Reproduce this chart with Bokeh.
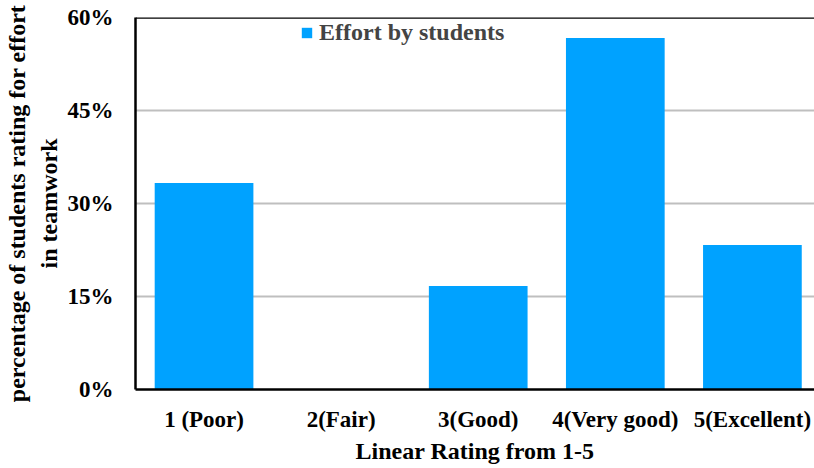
from bokeh.plotting import figure
from bokeh.models import Range1d, FixedTicker, PrintfTickFormatter, Span
from bokeh.embed import file_html
from bokeh.resources import INLINE

categories = ["1 (Poor)", "2(Fair)", "3(Good)", "4(Very good)", "5(Excellent)"]
values = [33.3, 0.0, 16.7, 56.7, 23.3]
y_ticks = [0, 15, 30, 45, 60]
series_name = "Effort by students"
y_title_lines = ["percentage of students rating for effort", "in teamwork"]
x_title = "Linear Rating from 1-5"

FONT = "Liberation Serif"
BAR = "#00A2FF"
FS_TICK = "23px"
FS_LABEL = "24px"

positions = list(range(1, len(categories) + 1))

p = figure(width=814, height=468, output_backend="svg", toolbar_location=None,
           x_range=Range1d(0.5, 5.453), y_range=Range1d(0, 60),
           min_border_left=135, min_border_right=0, min_border_top=17, min_border_bottom=79)
p.outline_line_color = None
p.background_fill_color = "white"
p.border_fill_color = "white"

p.vbar(x=positions, top=values, width=0.72, fill_color=BAR, line_color=None,
       legend_label=series_name)

# axes
p.xaxis.ticker = FixedTicker(ticks=positions)
p.xaxis.major_label_overrides = {i: c for i, c in zip(positions, categories)}
p.yaxis.ticker = FixedTicker(ticks=y_ticks)
p.yaxis.formatter = PrintfTickFormatter(format="%d%%")

for ax in (p.xaxis[0], p.yaxis[0]):
    ax.axis_line_color = "black"
    ax.axis_line_width = 2.5
    ax.major_tick_line_color = None
    ax.minor_tick_line_color = None
    ax.major_tick_in = 0
    ax.major_tick_out = 0
    ax.major_label_text_font = FONT
    ax.major_label_text_font_style = "bold"
    ax.major_label_text_font_size = FS_TICK
    ax.major_label_text_color = "black"
    ax.axis_label_text_font = FONT
    ax.axis_label_text_font_style = "bold"
    ax.axis_label_text_font_size = FS_LABEL
    ax.axis_label_text_color = "black"

p.xaxis.axis_label = x_title
p.xaxis.major_label_standoff = 17
p.xaxis.axis_label_standoff = 3
p.yaxis.axis_label = "\n".join(y_title_lines)
p.yaxis.major_label_standoff = 22
p.yaxis.axis_label_standoff = 3

p.xgrid.grid_line_color = None
p.ygrid.grid_line_color = "#BFBFBF"
p.ygrid.grid_line_width = 2

p.add_layout(Span(location=60, dimension="width", line_color="black", line_width=2.5))

lg = p.legend[0]
lg.location = (165, 343)
lg.background_fill_alpha = 0
lg.border_line_color = None
lg.padding = 0
lg.margin = 0
lg.spacing = 0
lg.glyph_width = 13
lg.glyph_height = 13
lg.label_standoff = 6
lg.label_text_font = FONT
lg.label_text_font_style = "bold"
lg.label_text_font_size = FS_LABEL
lg.label_height = 24

open("out.html", "w").write(file_html(p, INLINE))
